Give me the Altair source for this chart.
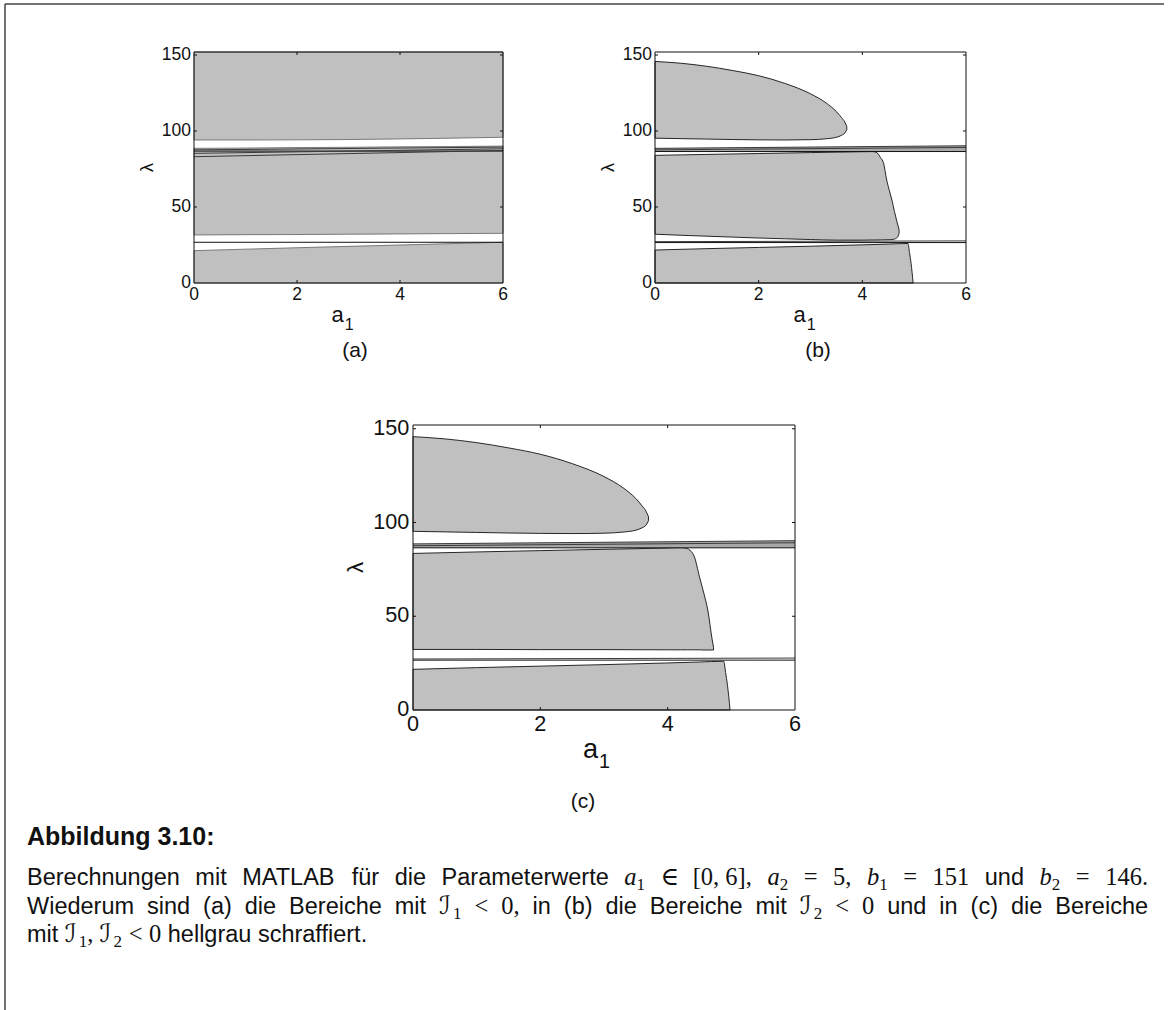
import altair as alt
import pandas as pd

PAGE_W, PAGE_H = 1168, 1010
A1_MAX, LAM_MAX = 6, 152
GRAY = "#c0c0c0"
INK = "#111111"
EDGE_A = "#6e6e6e"

X_TICKS = [0, 2, 4, 6]
Y_TICKS = [0, 50, 100, 150]

# ---------------- (a)  regions with I1 < 0 ----------------
A_TOP_A1 = [0, 1, 2, 3, 4, 5, 6]
A_TOP_LO = [94.1, 94.1, 94.2, 94.4, 94.8, 95.3, 95.9]
A_MID_A1 = [0, 1, 2, 3, 4, 5, 6]
A_MID_LO = [31.6, 31.8, 31.9, 32.1, 32.3, 32.5, 32.7]
A_MID_HI = [88.6, 88.8, 89.1, 89.3, 89.6, 89.8, 90.1]
A_BOT_A1 = [0, 2, 4, 6]
A_BOT_HI = [21.3, 23.2, 25.0, 26.8]
A_POLES = [26.8, 86.8]
A_SLOPE_L = [83.1, 85.3, 87.6]
A_SLOPE_R = [87.2, 88.3, 89.4]

# ---------------- (b)  regions with I2 < 0 ----------------
B_LOBE_A1 = [0, 0.5, 1, 1.5, 2, 2.5, 3, 3.3, 3.5, 3.6, 3.66, 3.7]
B_LOBE_HI = [145.8, 144.6, 142.6, 139.8, 136.4, 131.4, 124.5, 118.5, 112.8, 108.8, 106.0, 103.0]
B_LOBE_LO = [95.3, 95.0, 94.7, 94.4, 94.2, 94.1, 94.3, 94.9, 95.9, 97.2, 98.6, 101.0]
B_MID_A1 = [0, 0.5, 1, 1.5, 2, 2.5, 3, 3.5, 4, 4.2, 4.28, 4.35, 4.41, 4.47, 4.52, 4.57, 4.62, 4.66, 4.69, 4.71]
B_MID_LO = [32.1, 31.4, 30.8, 30.2, 29.6, 29.1, 28.6, 28.2, 28.2, 28.3, 28.3, 28.4, 28.4, 28.5, 28.5, 28.6, 28.9, 29.6, 30.8, 33.0]
B_MID_HI = [84.0, 84.3, 84.6, 84.9, 85.2, 85.5, 85.8, 86.1, 86.4, 86.5, 85.8, 82.5, 78.8, 67.8, 61.0, 54.6, 47.0, 41.4, 37.5, 34.8]
B_BOT_A1 = [0, 1, 2, 3, 4, 4.5, 4.88, 4.91, 4.94, 4.96, 4.98]
B_BOT_HI = [21.7, 22.6, 23.4, 24.2, 25.1, 25.6, 26.0, 20.0, 13.0, 7.0, 0.0]
B_POLES = [26.6, 86.5]
B_SLOPE_L = [87.6, 88.6, 27.2]
B_SLOPE_R = [89.2, 90.3, 27.7]

# ---------------- (c)  regions with I1, I2 < 0 ----------------
C_LOBE_A1 = B_LOBE_A1
C_LOBE_HI = B_LOBE_HI
C_LOBE_LO = B_LOBE_LO
C_MID_A1 = [0, 1, 2, 3, 4, 4.2, 4.3, 4.35, 4.42, 4.5, 4.57, 4.63, 4.7, 4.72]
C_MID_LO = [32.3, 32.3, 32.2, 32.2, 32.1, 32.1, 32.1, 32.1, 32.1, 32.1, 32.0, 32.0, 32.0, 32.0]
C_MID_HI = [83.5, 84.3, 85.0, 85.7, 86.4, 86.6, 86.2, 85.2, 81.7, 71.0, 62.0, 53.3, 37.3, 33.5]
C_BOT_A1 = B_BOT_A1
C_BOT_HI = B_BOT_HI
C_POLES = B_POLES
C_SLOPE_L = B_SLOPE_L
C_SLOPE_R = B_SLOPE_R

# placement of the three plot boxes on the page (pixels)
PANELS = {
    "a": dict(x0=194, x1=503, y0=52, y1=283, s=1.0),
    "b": dict(x0=655, x1=966, y0=52, y1=283, s=1.0),
    "c": dict(x0=413, x1=795, y0=425, y1=710, s=1.236),
}
TICK_FS = 17.5
TITLE_FS = 22
SUB_FS = 16


def df_region(a1, lo, hi):
    return pd.DataFrame({"a1": a1, "lo": lo, "hi": hi})


def df_lines(poles, slope_l, slope_r, pole_col, slope_col):
    rows = []
    for i, lam in enumerate(poles):
        rows += [dict(id=f"p{i}", a1=0, lam=lam, col=pole_col),
                 dict(id=f"p{i}", a1=A1_MAX, lam=lam, col=pole_col)]
    for i, (l, r) in enumerate(zip(slope_l, slope_r)):
        rows += [dict(id=f"s{i}", a1=0, lam=l, col=slope_col),
                 dict(id=f"s{i}", a1=A1_MAX, lam=r, col=slope_col)]
    return pd.DataFrame(rows)


def build_panel(p, regions, lines, strip=None, edge=INK):
    xs = alt.Scale(domain=[0, A1_MAX], range=[p["x0"], p["x1"]], nice=False, zero=False)
    ys = alt.Scale(domain=[0, LAM_MAX], range=[p["y1"], p["y0"]], nice=False, zero=False)
    s = p["s"]
    X = lambda f: alt.X(f, scale=xs, axis=None)
    Y = lambda f: alt.Y(f, scale=ys, axis=None)
    layers = []
    for reg in regions:
        layers.append(
            alt.Chart(reg).mark_area(fill=GRAY, stroke=edge, strokeWidth=0.9,
                                     interpolate="monotone").encode(
                x=X("a1:Q"), y=Y("lo:Q"), y2="hi:Q")
        )
    if strip is not None:
        layers.append(
            alt.Chart(strip).mark_area(fill="#a8a8a8").encode(
                x=X("a1:Q"), y=Y("lo:Q"), y2="hi:Q")
        )
    layers.append(
        alt.Chart(lines).mark_line(strokeWidth=1).encode(
            x=X("a1:Q"), y=Y("lam:Q"), detail="id:N",
            color=alt.Color("col:N", scale=None))
    )
    # plot box
    box = pd.DataFrame({"a0": [0], "a1": [A1_MAX], "l0": [0], "l1": [LAM_MAX]})
    layers.append(
        alt.Chart(box).mark_rect(fillOpacity=0, stroke=INK, strokeWidth=1).encode(
            x=X("a0:Q"), x2="a1:Q", y=Y("l0:Q"), y2="l1:Q")
    )
    # inward tick marks on all four sides, 3 px long
    ta = 3 * A1_MAX / (p["x1"] - p["x0"])
    tl = 3 * LAM_MAX / (p["y1"] - p["y0"])
    tick_rows = []
    for t in X_TICKS[1:-1]:
        tick_rows += [dict(xa=t, xb=t, ya=0, yb=tl), dict(xa=t, xb=t, ya=LAM_MAX, yb=LAM_MAX - tl)]
    for t in Y_TICKS[1:]:
        tick_rows += [dict(xa=0, xb=ta, ya=t, yb=t), dict(xa=A1_MAX, xb=A1_MAX - ta, ya=t, yb=t)]
    layers.append(
        alt.Chart(pd.DataFrame(tick_rows)).mark_rule(color=INK, strokeWidth=1).encode(
            x=X("xa:Q"), x2="xb:Q", y=Y("ya:Q"), y2="yb:Q")
    )
    fs = TICK_FS * s
    ylab = pd.DataFrame({"a1": [0] * len(Y_TICKS), "lam": Y_TICKS, "t": [str(v) for v in Y_TICKS]})
    layers.append(
        alt.Chart(ylab).mark_text(font="Liberation Sans", fontSize=fs, align="right",
                                  baseline="middle", dx=-3 * s, color=INK).encode(
            x=X("a1:Q"), y=Y("lam:Q"), text="t:N")
    )
    xlab = pd.DataFrame({"a1": X_TICKS, "lam": [0] * len(X_TICKS), "t": [str(v) for v in X_TICKS]})
    layers.append(
        alt.Chart(xlab).mark_text(font="Liberation Sans", fontSize=fs, align="center",
                                  baseline="top", dy=3 * s, color=INK).encode(
            x=X("a1:Q"), y=Y("lam:Q"), text="t:N")
    )
    # axis titles: a with subscript 1, and a rotated lambda
    mid = pd.DataFrame({"a1": [A1_MAX / 2], "lam": [0], "t": ["a"], "u": ["1"]})
    a_w = 0.556 * TITLE_FS * s
    layers.append(
        alt.Chart(mid).mark_text(font="Liberation Sans", fontSize=TITLE_FS * s, align="left",
                                 baseline="alphabetic", dx=-17 * s, dy=39 * s, color=INK).encode(
            x=X("a1:Q"), y=Y("lam:Q"), text="t:N")
    )
    layers.append(
        alt.Chart(mid).mark_text(font="Liberation Sans", fontSize=SUB_FS * s, align="left",
                                 baseline="alphabetic", dx=-17 * s + a_w + 1, dy=47 * s,
                                 color=INK).encode(
            x=X("a1:Q"), y=Y("lam:Q"), text="u:N")
    )
    lam_t = pd.DataFrame({"a1": [0], "lam": [LAM_MAX / 2], "t": ["λ"]})
    layers.append(
        alt.Chart(lam_t).mark_text(font="Liberation Sans", fontSize=18 * s, align="center",
                                   baseline="middle", angle=270, dy=-46 * s, color=INK).encode(
            x=X("a1:Q"), y=Y("lam:Q"), text="t:N")
    )
    return alt.layer(*layers)


panel_a = build_panel(
    PANELS["a"],
    [df_region(A_TOP_A1, A_TOP_LO, [LAM_MAX] * len(A_TOP_A1)),
     df_region(A_MID_A1, A_MID_LO, A_MID_HI),
     df_region(A_BOT_A1, [0] * len(A_BOT_A1), A_BOT_HI)],
    df_lines(A_POLES, A_SLOPE_L, A_SLOPE_R, INK, "#3a3a3a"),
    edge=EDGE_A,
)
panel_b = build_panel(
    PANELS["b"],
    [df_region(B_LOBE_A1, B_LOBE_LO, B_LOBE_HI),
     df_region(B_MID_A1, B_MID_LO, B_MID_HI),
     df_region(B_BOT_A1, [0] * len(B_BOT_A1), B_BOT_HI)],
    df_lines(B_POLES, B_SLOPE_L, B_SLOPE_R, INK, "#3a3a3a"),
    strip=df_region([0, A1_MAX], [B_POLES[1]] * 2, [B_SLOPE_L[1], B_SLOPE_R[1]]),
)
panel_c = build_panel(
    PANELS["c"],
    [df_region(C_LOBE_A1, C_LOBE_LO, C_LOBE_HI),
     df_region(C_MID_A1, C_MID_LO, C_MID_HI),
     df_region(C_BOT_A1, [0] * len(C_BOT_A1), C_BOT_HI)],
    df_lines(C_POLES, C_SLOPE_L, C_SLOPE_R, INK, "#3a3a3a"),
    strip=df_region([0, A1_MAX], [C_POLES[1]] * 2, [C_SLOPE_L[1], C_SLOPE_R[1]]),
)

# ---------------- caption typesetting ----------------
HELV = {" ": 278, "(": 333, ")": 333, "[": 278, "]": 278, ",": 278, ".": 278, ":": 278}
HELV.update({c: 556 for c in "0123456789"})
HELV.update(dict(zip("abcdefghijklmnopqrstuvwxyz",
                     [556, 556, 500, 556, 556, 278, 556, 556, 222, 222, 500, 222, 833,
                      556, 556, 556, 556, 333, 500, 278, 556, 500, 722, 500, 500, 500])))
HELV.update(dict(zip("ABCDEFGHIJKLMNOPQRSTUVWXYZ",
                     [667, 667, 722, 722, 667, 611, 778, 722, 278, 500, 667, 556, 833,
                      722, 778, 667, 778, 722, 667, 611, 722, 667, 944, 667, 667, 611])))
HELV["ü"] = 556
TIMES = {c: 500 for c in "0123456789"}
TIMES.update({",": 250, ".": 250, "[": 333, "]": 333, "=": 564, "<": 564, " ": 250})
TIMES_I = {"a": 500, "b": 500}
SYM = {"∈": 667, "ℐ": 560}

STY = {
    "sans": dict(font="Liberation Sans", size=23.5, weight="normal", fstyle="normal", w=HELV, dy=0),
    "bold": dict(font="Liberation Sans", size=25, weight="bold", fstyle="normal", w=HELV, dy=0),
    "mi": dict(font="Liberation Serif", size=24.5, weight="normal", fstyle="italic", w=TIMES_I, dy=0),
    "mr": dict(font="Liberation Serif", size=24.5, weight="normal", fstyle="normal", w=TIMES, dy=0),
    "sub": dict(font="Liberation Serif", size=17, weight="normal", fstyle="normal", w=TIMES, dy=5),
    "sym": dict(font="DejaVu Serif, DejaVu Sans", size=25, weight="normal", fstyle="normal", w=SYM, dy=0),
}


def text_w(t, s):
    st = STY[s]
    return sum(st["w"].get(ch, 556) for ch in t) * st["size"] / 1000


def words(txt):
    return [[(w, "sans")] for w in txt.split()]


def lay_line(tokens, x0, y, x1=None):
    gap = 0.278 * 23.5
    widths = [sum(text_w(t, s) for t, s in tok) for tok in tokens]
    if x1 is not None:
        gap += (x1 - x0 - sum(widths) - gap * (len(tokens) - 1)) / (len(tokens) - 1)
    rows, x = [], x0
    for tok, w in zip(tokens, widths):
        cx = x
        for t, s in tok:
            rows.append(dict(x=cx, y=y + STY[s]["dy"], text=t, style=s))
            cx += text_w(t, s)
        x += w + gap
    return rows


LEFT, RIGHT = 27, 1148
LINE1 = words("Berechnungen mit MATLAB für die Parameterwerte") + [
    [("a", "mi"), ("1", "sub")], [("∈", "sym")], [("[0, 6],", "mr")],
    [("a", "mi"), ("2", "sub")], [("=", "mr")], [("5,", "mr")],
    [("b", "mi"), ("1", "sub")], [("=", "mr")], [("151", "mr")], [("und", "sans")],
    [("b", "mi"), ("2", "sub")], [("=", "mr")], [("146.", "mr")]]
LINE2 = words("Wiederum sind (a) die Bereiche mit") + [
    [("ℐ", "sym"), ("1", "sub")], [("<", "mr")], [("0,", "mr")]] + words("in (b) die Bereiche mit") + [
    [("ℐ", "sym"), ("2", "sub")], [("<", "mr")], [("0", "mr")]] + words("und in (c) die Bereiche")
LINE3 = [[("mit", "sans")],
         [("ℐ", "sym"), ("1", "sub"), (", ", "mr"), ("ℐ", "sym"), ("2", "sub")],
         [("<", "mr")], [("0", "mr")]] + words("hellgrau schraffiert.")

rows = [dict(x=LEFT, y=845, text="Abbildung 3.10:", style="bold")]
rows += lay_line(LINE1, LEFT, 885, RIGHT)
rows += lay_line(LINE2, LEFT, 914, RIGHT)
rows += lay_line(LINE3, LEFT, 942)
cap = pd.DataFrame(rows)

caption_layers = []
for key, st in STY.items():
    sub = cap[cap["style"] == key]
    if sub.empty:
        continue
    caption_layers.append(
        alt.Chart(sub).mark_text(font=st["font"], fontSize=st["size"], fontWeight=st["weight"],
                                 fontStyle=st["fstyle"], align="left", baseline="alphabetic",
                                 color=INK).encode(
            x=alt.X("x:Q", scale=None), y=alt.Y("y:Q", scale=None), text="text:N")
    )

sublabels = pd.DataFrame({"x": [355, 818, 583], "y": [351, 351, 802], "t": ["(a)", "(b)", "(c)"]})
caption_layers.append(
    alt.Chart(sublabels).mark_text(font="Liberation Sans", fontSize=21, align="center",
                                   baseline="middle", color=INK).encode(
        x=alt.X("x:Q", scale=None), y=alt.Y("y:Q", scale=None), text="t:N")
)

# page frame: top rule and left rule
frame = pd.DataFrame({"x": [5, 5], "x2": [1164, 5], "y": [4, 4], "y2": [4, PAGE_H]})
caption_layers.append(
    alt.Chart(frame).mark_rule(color="#444444", strokeWidth=1.5).encode(
        x=alt.X("x:Q", scale=None), x2="x2:Q", y=alt.Y("y:Q", scale=None), y2="y2:Q")
)

chart = alt.layer(panel_a, panel_b, panel_c, *caption_layers).resolve_scale(
    x="independent", y="independent"
).properties(
    width=PAGE_W, height=PAGE_H, padding=0,
    autosize=alt.AutoSizeParams(type="none"),
    background="white",
).configure_view(stroke=None)

chart.save("out.html", embed_options={"renderer": "svg", "actions": False})
